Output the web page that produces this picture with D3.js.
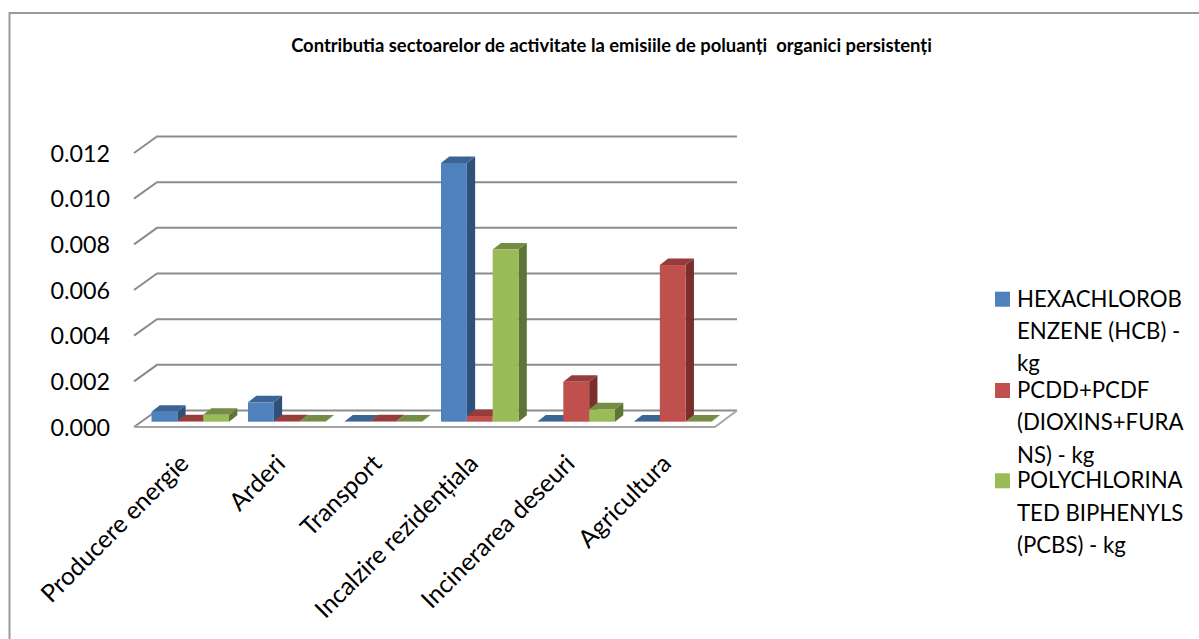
<!DOCTYPE html>
<html>
<head>
<meta charset="utf-8">
<script src="https://cdn.jsdelivr.net/npm/d3@7"></script>
<style>
  html, body { margin: 0; padding: 0; background: #fff; }
  svg { display: block; }
  text { font-family: Lato, "Open Sans", sans-serif; fill: #000; }
</style>
</head>
<body>
<div id="chart"></div>
<script>
// ------ DATA ------
const categories = ['Producere energie', 'Arderi', 'Transport', 'Incalzire rezidențiala', 'Incinerarea deseuri', 'Agricultura'];
const seriesNames = ['HEXACHLOROBENZENE (HCB) - kg', 'PCDD+PCDF (DIOXINS+FURANS) - kg', 'POLYCHLORINATED BIPHENYLS (PCBS) - kg'];
const hcbValues = [0.00044, 0.00085, 0.00001, 0.01133, 0.00001, 0.00001];
const dioxinValues = [0.00002, 0.00002, 0.00002, 0.00025, 0.00175, 0.00686];
const pcbValues = [0.0003, 0.00001, 0.00001, 0.00754, 0.00054, 0.00001];
const yTicks = [0, 0.002, 0.004, 0.006, 0.008, 0.010, 0.012];
const legendLines = [
  ['HEXACHLOROB', 'ENZENE (HCB) -', 'kg'],
  ['PCDD+PCDF', '(DIOXINS+FURA', 'NS) - kg'],
  ['POLYCHLORINA', 'TED BIPHENYLS', '(PCBS) - kg']
];
const titleText = 'Contributia sectoarelor de activitate la emisiile de poluanți  organici persistenți';

const faceColors = ['#4f81bd', '#c0504d', '#9bbb59'];
const topColors = ['#3c6594', '#963c3a', '#748c43'];
const sideColors = ['#2f5078', '#7a2f2e', '#5f7536'];

// ------ LAYOUT ------
const width = 1199, height = 639;
const depthX = 23, depthY = 16.5;     // floor depth of the 3D box
const barDepthX = 8.3, barDepthY = 6.5;

const svg = d3.select('#chart').append('svg')
  .attr('width', width)
  .attr('height', height);

// outer chart border
svg.append('path')
  .attr('d', `M9.5,${height}V13H${width}`)
  .attr('fill', 'none')
  .attr('stroke', '#9a9a9a')
  .attr('stroke-width', 2);

svg.append('text')
  .attr('x', 611.5).attr('y', 52)
  .attr('text-anchor', 'middle')
  .style('font-size', '18.4px')
  .style('font-weight', 700)
  .style('white-space', 'pre')
  .text(titleText);

// scales are on the front plane of the box
const y = d3.scaleLinear().domain([0, 0.012]).range([427, 153]);
const x0 = d3.scaleBand().domain(categories).range([134, 713]);
const x1 = d3.scaleBand().domain(d3.range(3)).range([17.5, 95]);

// ------ GRID ------
const grid = svg.append('g');
grid.selectAll('path.gridline')
  .data(yTicks)
  .join('path')
    .attr('class', 'gridline')
    .attr('fill', 'none')
    .attr('stroke', '#8c8c8c')
    .attr('stroke-width', 2)
    .attr('d', d => `M134,${y(d)}L${134 + depthX},${y(d) - depthY}H737`);

// floor front edge
grid.append('path')
  .attr('fill', 'none')
  .attr('stroke', '#a6a6a6')
  .attr('stroke-width', 2)
  .attr('d', `M134,${y(0)}H715L737,${y(0) - depthY}`);

// ------ BARS ------
const rows = [];
categories.forEach((c, i) => {
  [hcbValues, dioxinValues, pcbValues].forEach((vals, s) => rows.push({c, s, v: vals[i]}));
});

const barBase = y(0) - 5.3;
const bars = svg.append('g').selectAll('g.bar')
  .data(rows)
  .join('g')
    .attr('class', 'bar');

// side, then top, then front so the front face sits over the seams
bars.append('path')
  .attr('fill', d => sideColors[d.s])
  .attr('d', d => {
    const l = x0(d.c) + x1(d.s) + x1.bandwidth();
    const t = barBase - (y(0) - y(d.v));
    return `M${l},${barBase}V${t}l${barDepthX},${-barDepthY}V${barBase - barDepthY}Z`;
  });

bars.append('path')
  .attr('fill', d => topColors[d.s])
  .attr('d', d => {
    const l = x0(d.c) + x1(d.s);
    const t = barBase - (y(0) - y(d.v));
    return `M${l},${t}l${barDepthX},${-barDepthY}h${x1.bandwidth()}l${-barDepthX},${barDepthY}Z`;
  });

bars.append('rect')
  .attr('fill', d => faceColors[d.s])
  .attr('x', d => x0(d.c) + x1(d.s))
  .attr('width', x1.bandwidth())
  .attr('y', d => barBase - (y(0) - y(d.v)))
  .attr('height', d => y(0) - y(d.v));

// ------ AXIS LABELS ------
svg.append('g').selectAll('text')
  .data(yTicks)
  .join('text')
    .attr('x', 110)
    .attr('y', d => y(d) + 8.8)
    .attr('text-anchor', 'end')
    .style('font-size', '23.3px')
    .text(d => d3.format('.3f')(d));

svg.append('g').selectAll('text')
  .data(categories)
  .join('text')
    .attr('text-anchor', 'end')
    .attr('transform', d => `translate(${x0(d) + x0.bandwidth() / 2 + 8},${465}) rotate(-45)`)
    .style('font-size', '24.6px')
    .text(d => d);

// ------ LEGEND ------
const legendTops = [291.7, 383, 473.3];
const legend = svg.append('g').selectAll('g')
  .data(seriesNames)
  .join('g');

legend.append('rect')
  .attr('x', 995)
  .attr('y', (d, i) => legendTops[i])
  .attr('width', 15).attr('height', 15)
  .attr('fill', (d, i) => faceColors[i]);

legend.each(function(d, i) {
  d3.select(this).selectAll('text')
    .data(legendLines[i])
    .join('text')
      .attr('x', 1017)
      .attr('y', (t, j) => legendTops[i] + 15 + j * 32.3)
      .style('font-size', '22.2px')
      .text(t => t);
});
</script>
</body>
</html>
